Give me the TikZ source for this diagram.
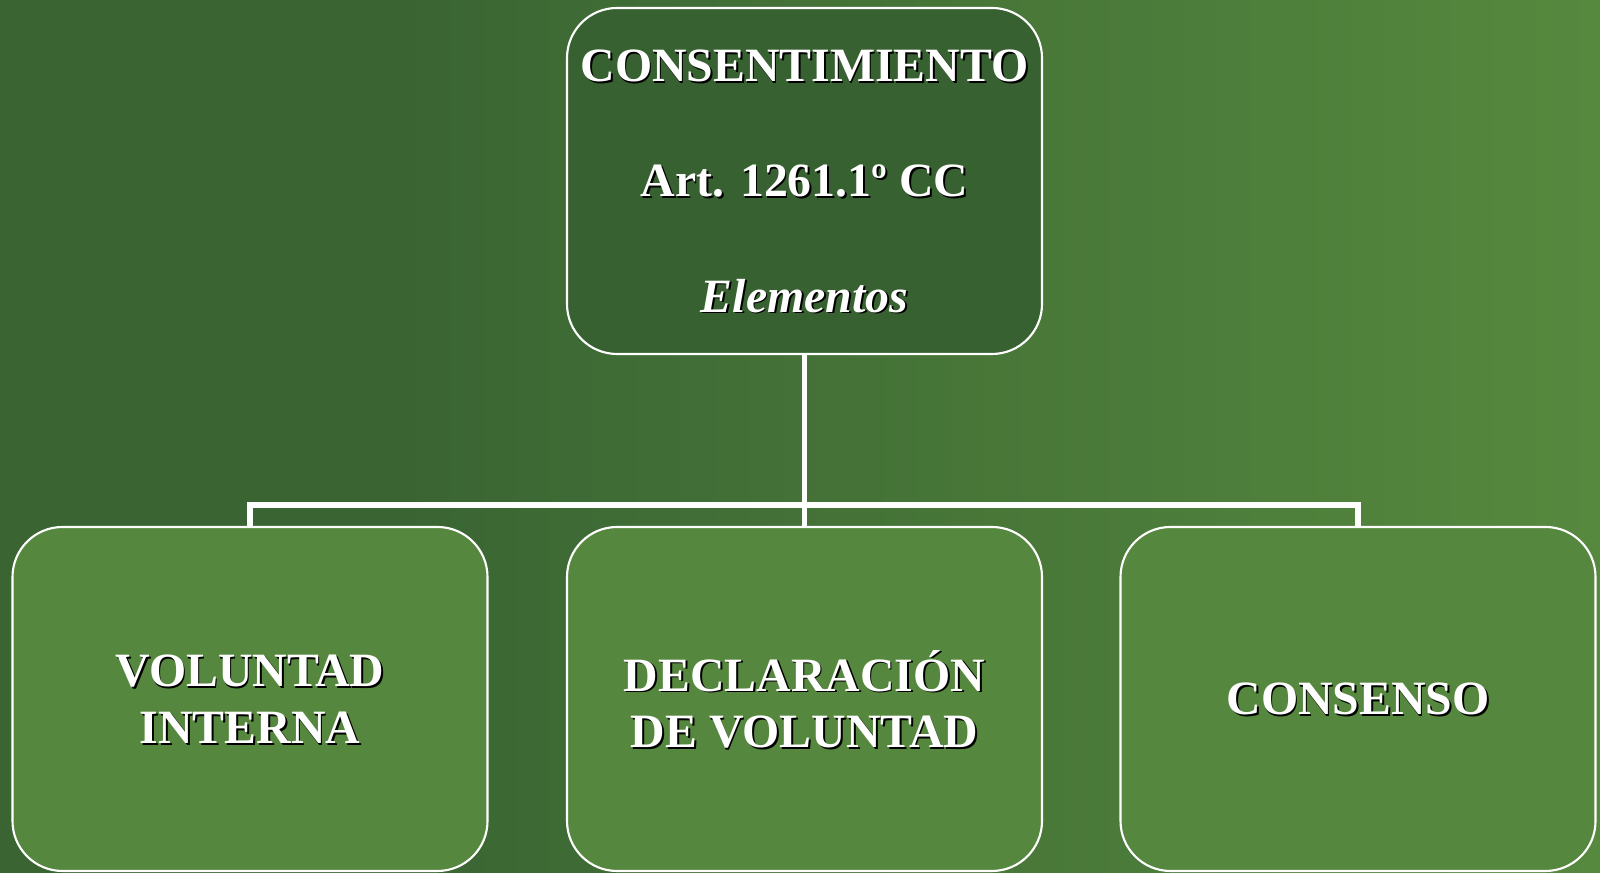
\documentclass[tikz,border=0pt]{standalone}
\usepackage{fontspec}
\setmainfont{Liberation Serif}
\usepackage{xcolor}

\definecolor{bgdark}{HTML}{3A6533}
\definecolor{bglight}{HTML}{56893E}
\definecolor{topfill}{HTML}{386131}
\definecolor{boxfill}{HTML}{56873E}

% white text with a small black shadow
\newcommand{\shtext}[1]{\makebox[0pt][l]{\hspace{0.5pt}\raisebox{-0.5pt}{\color{black}#1}}#1}

\tikzset{
  box/.style={draw=white, line width=0.6pt, rounded corners=0.5cm,
    minimum width=4.75cm, minimum height=3.44cm, align=center, text depth=0pt,
    text=white, font=\fontsize{13.6}{16.2}\selectfont\bfseries},
  conn/.style={draw=white, line width=1.5pt}
}

\begin{document}
\begin{tikzpicture}
  % background
  \fill[bgdark] (0,0) rectangle (4.1,8.73);
  \shade[left color=bgdark, right color=bglight] (4,0) rectangle (16,8.73);
  \useasboundingbox (0,0) rectangle (16,8.73);

  % top box
  \node[box, fill=topfill, minimum height=3.46cm] (cons) at (8.045,6.92)
    {\shtext{CONSENTIMIENTO}\\[16.6pt] \shtext{Art. 1261.1º CC}\\[16.6pt] \shtext{\itshape Elementos}};

  % the three elements
  \node[box, fill=boxfill] (vol) at (2.50,1.74) {\shtext{VOLUNTAD}\\ \shtext{INTERNA}};
  \node[box, fill=boxfill] (decl) at (8.045,1.74) {\shtext{DECLARACIÓN}\\ \shtext{DE VOLUNTAD}};
  \node[box, fill=boxfill] (cons2) at (13.58,1.74) {\shtext{CONSENSO}};

  % connectors
  \coordinate (bar) at (8.045,3.68);
  \draw[conn] (cons.south) -- (decl.north);
  \draw[conn] (vol.north) -- (vol.north |- bar) -- (cons2.north |- bar) -- (cons2.north);
\end{tikzpicture}
\end{document}
